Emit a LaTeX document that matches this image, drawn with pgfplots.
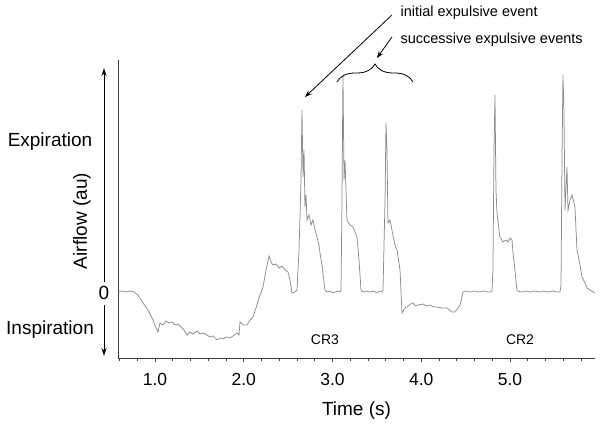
\documentclass[border=0pt]{standalone}
\usepackage{fontspec}
\setmainfont{Liberation Sans}
\usepackage{pgfplots}
\pgfplotsset{compat=1.18}
\usetikzlibrary{arrows.meta,decorations.pathreplacing}
\begin{document}
\begin{tikzpicture}[x=1pt,y=1pt]
\useasboundingbox (0,0) rectangle (601,426);
\begin{axis}[
  at={(118pt,68pt)}, anchor=south west,
  scale only axis, width=477pt, height=298pt,
  xmin=0.583, xmax=5.958, ymin=-66, ymax=232,
  axis x line*=bottom, axis y line*=left,
  axis line style={black!75, line width=0.9pt},
  ytick=\empty,
  xtick={1,2,3,4,5}, xticklabels={1.0,2.0,3.0,4.0,5.0},
  minor xtick={0.6,0.8,1.2,1.4,1.6,1.8,2.2,2.4,2.6,2.8,3.2,3.4,3.6,3.8,4.2,4.4,4.6,4.8,5.2,5.4,5.6,5.8},
  tick align=outside, major tick length=4pt, minor tick length=3pt,
  tick style={black!75, line width=0.7pt},
  /pgf/number format/assume math mode=true,
  xticklabel style={font=\fontsize{17.5}{20}\selectfont, yshift=-8pt},
  xlabel={Time (s)},
  xlabel style={font=\fontsize{19}{22}\selectfont, yshift=-9pt},
  clip=false,
]
\addplot[black!45, line width=0.75pt] coordinates {
(0.583,0) (0.628,1) (0.673,0) (0.718,1) (0.763,0) (0.808,-3) (0.865,-11) (0.921,-18) (0.977,-28) (1.011,-36) (1.034,-40)
(1.056,-31) (1.090,-33) (1.124,-29) (1.158,-31) (1.192,-30) (1.225,-33) (1.259,-32) (1.293,-35) (1.327,-38) (1.361,-43)
(1.394,-40) (1.428,-42) (1.473,-39) (1.507,-42) (1.541,-41) (1.586,-43) (1.620,-45) (1.654,-44) (1.699,-48) (1.732,-46)
(1.766,-47) (1.811,-45) (1.845,-46) (1.879,-44) (1.924,-41) (1.946,-43) (1.958,-30) (1.992,-33) (2.037,-33) (2.070,-28)
(2.104,-25) (2.138,-16) (2.172,-6) (2.217,5) (2.251,22) (2.285,36) (2.307,30) (2.330,27) (2.363,28) (2.397,24) (2.431,26)
(2.465,22) (2.499,20) (2.521,12) (2.544,-1) (2.577,0) (2.600,2) (2.623,42) (2.645,112) (2.656,182) (2.668,115) (2.679,142)
(2.690,85) (2.701,97) (2.713,72) (2.735,77) (2.758,67) (2.780,72) (2.803,62) (2.825,55) (2.848,47) (2.859,39) (2.882,27)
(2.915,2) (2.938,0) (2.970,1) (3.000,-1) (3.030,0) (3.060,1) (3.085,0) (3.096,2) (3.107,92) (3.118,217) (3.130,112)
(3.141,132) (3.163,72) (3.197,67) (3.231,65) (3.254,60) (3.276,55) (3.299,32) (3.321,2) (3.344,0) (3.380,1) (3.420,0)
(3.460,1) (3.500,-1) (3.530,1) (3.558,0) (3.569,2) (3.592,92) (3.603,169) (3.614,142) (3.625,69) (3.648,72) (3.670,62)
(3.704,47) (3.727,42) (3.761,22) (3.783,-21) (3.817,-16) (3.851,-14) (3.880,-12) (3.907,-11) (3.935,-14) (3.963,-13)
(4.020,-12) (4.060,-14) (4.099,-13) (4.140,-15) (4.177,-15) (4.234,-16) (4.290,-16) (4.346,-20) (4.380,-20) (4.414,-16)
(4.437,-13) (4.470,0) (4.493,1) (4.550,0) (4.600,1) (4.650,0) (4.700,1) (4.750,0) (4.775,0) (4.797,1) (4.808,22)
(4.820,142) (4.831,197) (4.842,102) (4.854,79) (4.876,62) (4.887,55) (4.921,50) (4.955,52) (4.977,50) (5.000,54)
(5.023,52) (5.034,39) (5.056,22) (5.079,1) (5.130,0) (5.180,1) (5.230,0) (5.280,1) (5.330,0) (5.380,1) (5.430,0)
(5.480,1) (5.530,0) (5.563,0) (5.575,7) (5.586,132) (5.597,217) (5.608,182) (5.620,82) (5.642,125) (5.654,82) (5.676,92)
(5.699,97) (5.732,85) (5.755,42) (5.789,27) (5.811,15) (5.845,9) (5.868,4) (5.901,2) (5.958,-1)
};
\node[font=\fontsize{14}{16}\selectfont] at (axis cs:2.915,-48) {CR3};
\node[font=\fontsize{14}{16}\selectfont] at (axis cs:5.113,-48) {CR2};
\draw[-{Stealth[length=7pt,width=5pt]}, line width=0.8pt] (axis cs:3.670,277) -- (axis cs:2.690,195);
\draw[-{Stealth[length=7pt,width=5pt]}, line width=0.8pt] (axis cs:3.670,255) -- (axis cs:3.501,234);
\draw[decorate, decoration={brace, amplitude=18pt}, line width=0.8pt] (axis cs:3.051,210) -- (axis cs:3.907,210);
\node[anchor=west, font=\fontsize{14.5}{17}\selectfont] at (axis cs:3.727,279) {initial expulsive event};
\node[anchor=west, font=\fontsize{14.5}{17}\selectfont] at (axis cs:3.727,252) {successive expulsive events};
\end{axis}
\draw[-{Stealth[length=8pt,width=5pt]}, line width=0.9pt] (104,144) -- (104,358);
\draw[-{Stealth[length=8pt,width=5pt]}, line width=0.9pt] (104,121) -- (104,70);
\node[font=\fontsize{19}{22}\selectfont] at (104,133) {0};
\node[font=\fontsize{19}{22}\selectfont] at (50,284) {Expiration};
\node[font=\fontsize{19}{22}\selectfont] at (50,96) {Inspiration};
\node[font=\fontsize{19}{22}\selectfont, rotate=90] at (82,205) {Airflow (au)};
\end{tikzpicture}
\end{document}
